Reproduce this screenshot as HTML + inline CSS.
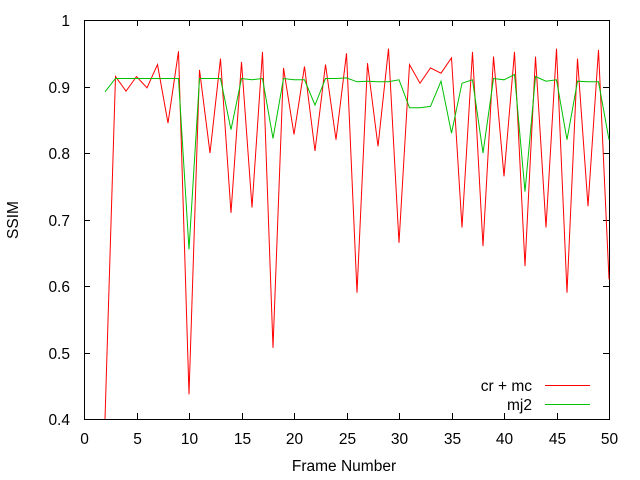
<!DOCTYPE html>
<html><head><meta charset="utf-8"><style>
html,body{margin:0;padding:0;background:#fff;}
svg{display:block;font-family:"Liberation Sans",sans-serif;}
</style></head><body>
<svg id="chart" width="640" height="480"></svg>
<script>
const frames = [2,3,4,5,6,7,8,9,10,11,12,13,14,15,16,17,18,19,20,21,22,23,24,25,26,27,28,29,30,31,32,33,34,35,36,37,38,39,40,41,42,43,44,45,46,47,48,49,50];
const crMc = [0.40,0.915,0.893,0.915,0.898,0.933,0.845,0.953,0.437,0.925,0.80,0.942,0.71,0.937,0.718,0.952,0.507,0.928,0.828,0.93,0.803,0.933,0.82,0.95,0.59,0.935,0.81,0.957,0.665,0.933,0.905,0.928,0.92,0.943,0.688,0.952,0.66,0.945,0.765,0.952,0.63,0.945,0.688,0.957,0.59,0.942,0.72,0.955,0.61];
const mj2 = [0.892,0.912,0.912,0.912,0.912,0.912,0.912,0.912,0.655,0.912,0.912,0.912,0.835,0.912,0.91,0.912,0.822,0.912,0.91,0.91,0.872,0.912,0.912,0.913,0.907,0.908,0.907,0.907,0.91,0.868,0.868,0.87,0.908,0.83,0.905,0.91,0.80,0.912,0.91,0.918,0.742,0.915,0.908,0.91,0.82,0.908,0.907,0.907,0.82];
const xTicks = [0,5,10,15,20,25,30,35,40,45,50];
const yTicks = [0.4,0.5,0.6,0.7,0.8,0.9,1];
const yTickLabels = ["0.4","0.5","0.6","0.7","0.8","0.9","1"];

const L=84,R=609,T=20,B=419;
const FS=15.5;
const xs=v=>L+(v-0)/(50-0)*(R-L);
const ys=v=>B-(v-0.4)/(1-0.4)*(B-T);
const svg=document.getElementById('chart');
const NS="http://www.w3.org/2000/svg";
function mk(tag,attrs,parent){const e=document.createElementNS(NS,tag);for(const k in attrs)e.setAttribute(k,attrs[k]);(parent||svg).appendChild(e);return e;}

const frame=mk('rect',{x:L+0.5,y:T+0.5,width:R-L,height:B-T,fill:'none',stroke:'#000','stroke-width':1});



xTicks.forEach(t=>{
  const x=Math.round(xs(t))+0.5;
  const g=mk('g',{});
  
  
  mk('line',{x1:x,x2:x,y1:B,y2:B-6,stroke:'#000'},g);
  mk('line',{x1:x,x2:x,y1:T,y2:T+6,stroke:'#000'},g);
  const tx=mk('text',{x:x,y:B+25,'font-size':FS,'text-anchor':'middle',fill:'#000'},g);
  tx.textContent=t;
});
yTicks.forEach((t,i)=>{
  const y=Math.round(ys(t))+0.5;
  const g=mk('g',{});
  
  
  mk('line',{x1:L,x2:L+6,y1:y,y2:y,stroke:'#000'},g);
  mk('line',{x1:R,x2:R-6,y1:y,y2:y,stroke:'#000'},g);
  const tx=mk('text',{x:L-14,y:y+5.5,'font-size':FS,'text-anchor':'end',fill:'#000'},g);
  tx.textContent=yTickLabels[i];
});

const xt=mk('text',{x:344,y:471,'font-size':FS,'text-anchor':'middle',fill:'#000'});
xt.textContent='Frame Number';


const yt=mk('text',{x:18,y:220,'font-size':FS,'text-anchor':'middle',fill:'#000',transform:'rotate(-90 18 220)'});
yt.textContent='SSIM';



function line(vals,color,name){
  const d=vals.map((v,i)=>(i?'L':'M')+xs(frames[i]).toFixed(1)+','+ys(v).toFixed(1)).join(' ');
  const p=mk('path',{d:d,fill:'none',stroke:color,'stroke-width':1});
  
  
}
line(crMc,'#ff0000','series-cr-mc');
line(mj2,'#00c000','series-mj2');

const lg1=mk('g',{});


const l1=mk('text',{x:532,y:391,'font-size':FS,'text-anchor':'end',fill:'#000'},lg1);
l1.textContent='cr + mc';
mk('line',{x1:545,x2:590,y1:385.5,y2:385.5,stroke:'#ff0000'},lg1);
const lg2=mk('g',{});


const l2=mk('text',{x:532,y:410,'font-size':FS,'text-anchor':'end',fill:'#000'},lg2);
l2.textContent='mj2';
mk('line',{x1:545,x2:590,y1:404.5,y2:404.5,stroke:'#00c000'},lg2);
</script>
</body></html>
